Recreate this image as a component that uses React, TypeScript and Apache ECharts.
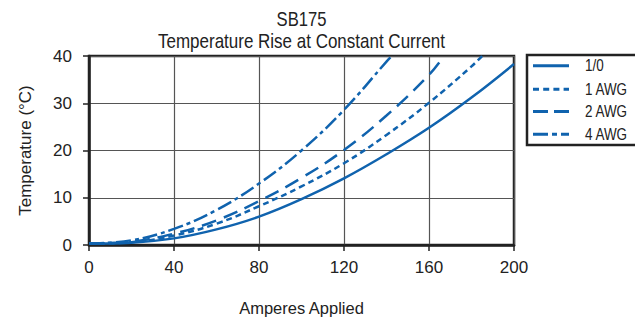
import React, { useEffect, useRef } from "react";
import * as echarts from "echarts";

const seriesNames = ["1/0", "1 AWG", "2 AWG", "4 AWG"];

const amps10 = [0, 20, 40, 60, 80, 100, 120, 140, 160, 180, 200];
const temp10 = [0.3, 0.5, 1.4, 3.3, 6.0, 9.7, 14.1, 19.2, 24.8, 31.2, 38.3];

const amps1 = [0, 20, 40, 60, 80, 100, 120, 140, 160, 180, 185];
const temp1 = [0.3, 0.6, 2.0, 4.5, 8.2, 12.4, 17.3, 23.3, 30.1, 37.8, 40];

const amps2 = [0, 20, 40, 60, 80, 100, 120, 140, 160, 167];
const temp2 = [0.3, 0.7, 2.4, 5.2, 9.3, 14.2, 20.1, 27.4, 36.0, 40];

const amps4 = [0, 20, 40, 60, 80, 100, 120, 140, 142.5];
const temp4 = [0.3, 1.0, 3.4, 7.4, 13.0, 20.0, 28.6, 38.8, 40];

const xTicks = [0, 40, 80, 120, 160, 200];
const yTicks = [0, 10, 20, 30, 40];

const titleLines = ["SB175", "Temperature Rise at Constant Current"];
const xName = "Amperes Applied";
const yName = "Temperature (°C)";

const BLUE = "#1063ae";
const FONT = "'Liberation Sans', Arial, sans-serif";

function pairs(xs: number[], ys: number[]) {
  return xs.map((x, i) => [x, ys[i]]);
}

export default function App() {
  const ref = useRef<HTMLDivElement>(null);
  useEffect(() => {
    if (!ref.current) return;
    const chart = echarts.init(ref.current, undefined, { renderer: "svg" });
    const dashes: any[] = ["solid", [6, 4], [15, 8], [15, 4, 4, 4]];
    const legendDashes: any[] = [null, [6, 4.2], [15, 6], [15, 4, 5, 4]];
    const legendRows = [65.7, 89.3, 111.5, 134.3];
    const datasets = [
      pairs(amps10, temp10),
      pairs(amps1, temp1),
      pairs(amps2, temp2),
      pairs(amps4, temp4),
    ];
    const legendGraphics: any[] = [];
    seriesNames.forEach((name, i) => {
      legendGraphics.push({
        type: "line",
        shape: { x1: 533, y1: legendRows[i], x2: 569, y2: legendRows[i] },
        style: {
          stroke: BLUE,
          lineWidth: 3,
          lineDash: legendDashes[i] || undefined,
        },
        z: 10,
      });
      legendGraphics.push({
        type: "text",
        x: 585,
        y: legendRows[i],
        scaleX: 0.84,
        style: {
          text: name,
          fontFamily: FONT,
          fontSize: 16,
          fill: "#222",
          align: "left",
          verticalAlign: "middle",
        },
        z: 10,
      });
    });
    chart.setOption({
      animation: false,
      backgroundColor: "#fff",
      textStyle: { fontFamily: FONT },
      grid: {
        left: 89,
        right: 121,
        top: 56,
        bottom: 77,
        show: true,
        borderColor: "#222",
        borderWidth: 2.5,
        containLabel: false,
      },
      xAxis: {
        type: "value",
        min: xTicks[0],
        max: xTicks[xTicks.length - 1],
        interval: 40,
        name: xName,
        nameLocation: "middle",
        nameGap: 54,
        nameTextStyle: { fontFamily: FONT, fontSize: 16.5, color: "#222" },
        axisLine: { show: true, lineStyle: { color: "#222", width: 2.5 } },
        axisTick: { show: true, length: 6, lineStyle: { color: "#222", width: 1.5 } },
        axisLabel: { fontFamily: FONT, fontSize: 17, color: "#222", margin: 14 },
        splitLine: { show: true, lineStyle: { color: "#555", width: 1.2 } },
      },
      yAxis: {
        type: "value",
        min: yTicks[0],
        max: yTicks[yTicks.length - 1],
        interval: 10,
        name: yName,
        nameLocation: "middle",
        nameGap: 55,
        nameTextStyle: { fontFamily: FONT, fontSize: 17, color: "#222" },
        axisLine: { show: true, lineStyle: { color: "#222", width: 2.5 } },
        axisTick: { show: true, length: 6, lineStyle: { color: "#222", width: 1.5 } },
        axisLabel: { fontFamily: FONT, fontSize: 17, color: "#222", margin: 17 },
        splitLine: { show: true, lineStyle: { color: "#555", width: 1.2 } },
      },
      graphic: [
        {
          type: "text",
          x: 301.5,
          y: 19,
          scaleX: 0.83,
          style: {
            text: titleLines[0],
            fontFamily: FONT,
            fontSize: 20,
            fill: "#222",
            align: "center",
            verticalAlign: "middle",
          },
        },
        {
          type: "text",
          x: 301.5,
          y: 40.7,
          scaleX: 0.85,
          style: {
            text: titleLines[1],
            fontFamily: FONT,
            fontSize: 20,
            fill: "#222",
            align: "center",
            verticalAlign: "middle",
          },
        },
        {
          type: "rect",
          shape: { x: 527, y: 55, width: 130, height: 90 },
          style: { fill: "none", stroke: "#222", lineWidth: 2.5 },
          z: 10,
        },
        ...legendGraphics,
      ],
      series: seriesNames.map((name, i) => ({
        name,
        type: "line",
        data: datasets[i],
        smooth: 0.4,
        symbol: "none",
        clip: true,
        lineStyle: { color: BLUE, width: 2.5, type: dashes[i] },
        itemStyle: { color: BLUE },
      })),
    });
    return () => chart.dispose();
  }, []);
  return (
    <div
      ref={ref}
      style={{ position: "fixed", left: 0, top: 0, width: 635, height: 322 }}
    />
  );
}
